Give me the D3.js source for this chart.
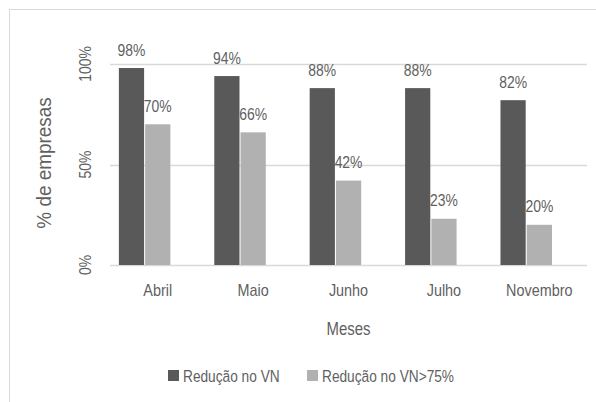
<!DOCTYPE html>
<html>
<head>
<meta charset="utf-8">
<script src="https://cdn.jsdelivr.net/npm/d3@7"></script>
<style>
  html, body { margin: 0; padding: 0; background: #fff; }
  svg text { font-family: "Liberation Sans", Arial, sans-serif; fill: #5f5f5f; }
</style>
</head>
<body>
<svg id="chart" width="596" height="402"></svg>
<script>
// Months on the category axis
const months = ["Abril", "Maio", "Junho", "Julho", "Novembro"];
// Series names (legend)
const seriesNames = ["Redução no VN", "Redução no VN>75%"];
// Share of firms reporting a drop in turnover
const reducaoVN = [0.98, 0.94, 0.88, 0.88, 0.82];
// Share of firms reporting a drop above 75%
const reducaoVN75 = [0.70, 0.66, 0.42, 0.23, 0.20];
// Y axis ticks
const yTicks = [0, 0.5, 1];

const colors = ["#595959", "#b1b1b1"];
const seriesValues = [reducaoVN, reducaoVN75];
const pct = d3.format(".0%");
const NARROW = 0.83; // condensed text look

const svg = d3.select("#chart");

// Chart frame
svg.append("rect")
  .attr("x", 9.5).attr("y", 9.5)
  .attr("width", 620).attr("height", 420)
  .attr("fill", "none").attr("stroke", "#d9d9d9").attr("stroke-width", 1);

const plot = { left: 110, right: 587, top: 64, bottom: 265 };

const x = d3.scaleBand().domain(months).range([plot.left, plot.right]).padding(0);
const bw = x.bandwidth();
const xs = d3.scaleBand().domain(d3.range(seriesNames.length))
  .range([bw * 0.093, bw * 0.093 + 51.5]).paddingInner(0.04);
const y = d3.scaleLinear().domain([0, 1]).range([plot.bottom, plot.top]);

// Gridlines
svg.append("g").selectAll("line").data(yTicks).join("line")
  .attr("x1", plot.left).attr("x2", plot.right)
  .attr("y1", d => Math.round(y(d)) + 0.5).attr("y2", d => Math.round(y(d)) + 0.5)
  .attr("stroke", "#d9d9d9").attr("stroke-width", 1.3);

// Y tick labels (rotated)
svg.append("g").selectAll("text").data(yTicks).join("text")
  .attr("transform", d => `translate(91,${y(d)}) rotate(-90) scale(0.87,1)`)
  .attr("text-anchor", "middle")
  .attr("font-size", 16)
  .text(pct);

// Bars
const groups = svg.append("g").selectAll("g").data(months).join("g")
  .attr("transform", d => `translate(${x(d)},0)`);

const cells = (m, i) => seriesValues.map((vals, s) => ({ s, v: vals[i] }));

groups.selectAll("rect").data(cells).join("rect")
  .attr("x", d => xs(d.s))
  .attr("width", xs.bandwidth())
  .attr("y", d => y(d.v))
  .attr("height", d => y(0) - y(d.v))
  .attr("fill", d => colors[d.s]);

// Value labels
groups.selectAll("text").data(cells).join("text")
  .attr("transform", d => `translate(${xs(d.s) + xs.bandwidth() / 2},${y(d.v) - 12.5}) scale(0.87,1)`)
  .attr("text-anchor", "middle")
  .attr("font-size", 16)
  .text(d => pct(d.v));

// X tick labels
svg.append("g").selectAll("text").data(months).join("text")
  .attr("transform", d => `translate(${x(d) + bw / 2},296) scale(0.9,1)`)
  .attr("text-anchor", "middle")
  .attr("font-size", 16)
  .text(d => d);

// Axis titles
svg.append("text")
  .attr("transform", `translate(${(plot.left + plot.right) / 2},335) scale(${NARROW},1)`)
  .attr("text-anchor", "middle")
  .attr("font-size", 18)
  .text("Meses");

svg.append("text")
  .attr("transform", "translate(51,163) rotate(-90) scale(0.9,1)")
  .attr("text-anchor", "middle")
  .attr("font-size", 21)
  .text("% de empresas");

// Legend
const legendX = [168, 307];
const legend = svg.append("g").selectAll("g").data(seriesNames).join("g")
  .attr("transform", (d, i) => `translate(${legendX[i]},370)`);
legend.append("rect")
  .attr("width", 11).attr("height", 11)
  .attr("fill", (d, i) => colors[i]);
legend.append("text")
  .attr("transform", `translate(15,11.5) scale(${NARROW},1)`)
  .attr("font-size", 16.5)
  .text(d => d);
</script>
</body>
</html>
